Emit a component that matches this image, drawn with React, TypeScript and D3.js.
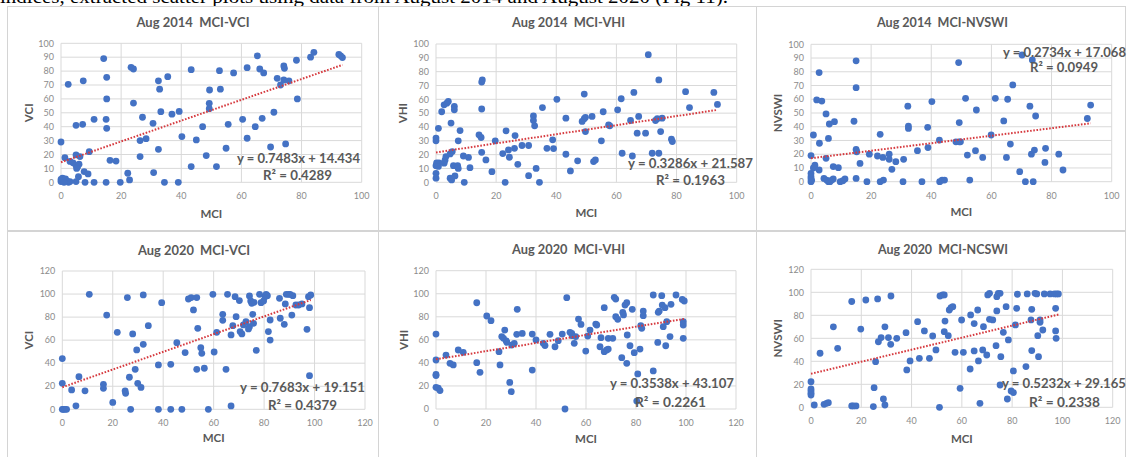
import React from "react";
import * as d3 from "d3";

type Pt = [number, number];

const titles = ["Aug 2014\u00A0 MCI-VCI", "Aug 2014\u00A0 MCI-VHI", "Aug 2014\u00A0 MCI-NVSWI", "Aug 2020\u00A0 MCI-VCI", "Aug 2020\u00A0 MCI-VHI", "Aug 2020\u00A0 MCI-NCSWI"];
const yAxisTitles = ["VCI", "VHI", "NVSWI", "VCI", "VHI", "NVSWI"];
const xAxisTitle = "MCI";
const slopes = [0.7483, 0.3286, 0.2734, 0.7683, 0.3538, 0.5232];
const intercepts = [14.434, 21.587, 17.068, 19.151, 43.107, 29.165];
const rSquared = ["0.4289", "0.1963", "0.0949", "0.4379", "0.2261", "0.2338"];
const axisMax = [100, 100, 100, 120, 120, 120];
const yTickStep = [10, 10, 10, 20, 20, 20];
const xTickStep = [20, 20, 20, 20, 20, 20];
const captionText = "indices, extracted scatter plots using data from August 2014 and August 2020 (Fig 11).";

const vci2014: Pt[] = [
  [0, 29], [0, 0.5], [0, 2], [0.5, 3], [1, 1.5], [1.5, 2.5], [2, 1], [2.5, 0], [3, 0.5], [0.3, 1], [1, 0],
  [2.4, 70.5], [1.3, 17.7], [3, 15], [4, 14], [5, 19.7], [5, 41], [5, 12], [5.5, 11], [6, 13], [5.2, 10], [6.3, 18.5],
  [5.8, 4], [5, 0.5], [7.4, 73], [7.2, 41.7], [7.7, 7.7], [9, 6], [9.4, 22], [8, 0], [11, 0], [11, 45.3], [14.2, 89],
  [15, 0], [15.2, 75.5], [15.2, 60], [15, 45.3], [15.2, 38.8], [16.3, 15.8], [18.3, 15.3], [19.7, 0], [22.2, 6.5],
  [22.8, 1.7], [23.3, 82.7], [24.1, 81.5], [24.1, 57], [26.3, 18.5], [26.3, 30], [27.1, 46.8], [28.3, 31.4], [30.6, 42.4],
  [30.8, 7], [32.4, 73], [32.8, 67], [32.4, 23.7], [33.2, 50.8], [34.4, 0], [35.5, 76], [36.9, 49], [39, 0], [39.3, 51],
  [40.2, 32.9], [43.3, 11.3], [43.3, 81], [45, 30.5], [47.1, 40], [48.3, 19.2], [49.3, 56.8], [49.4, 66.4], [49.3, 53],
  [51.7, 11.3], [52.7, 80.3], [53, 67], [54.9, 24.5], [55.6, 41.7], [57.4, 78.7], [60.4, 45.3], [61.9, 31.7], [61.9, 82.5],
  [64.6, 40], [65.3, 91], [66.1, 81.5], [66.9, 46], [67.4, 78.7], [69.7, 25.4], [70.8, 50.4], [71.9, 74.8], [73, 70],
  [74.1, 83.7], [74.3, 82], [74.1, 73.6], [74.7, 27.6], [75.8, 73], [78.3, 87.8], [78.6, 60], [83, 90], [84.1, 93.5],
  [92.4, 92], [93, 91], [93.6, 89.7],
];

const vhi2014: Pt[] = [
  [0, 30], [0, 32], [0, 6.5], [0, 3], [0, 12], [0.5, 13], [1, 14], [0.2, 14], [0.8, 11.5], [0.8, 39], [1.9, 51],
  [2.7, 13.8], [3, 16], [3.3, 18.6], [2.7, 56], [3.6, 57.2], [4.1, 58.5], [4.7, 20.5], [5, 42.8], [4.7, 3], [5.2, 1.7],
  [5.4, 22.2], [5.8, 12], [6.1, 54.8], [6.1, 52.4], [6.3, 4.6], [7.2, 12], [7.4, 10], [7.4, 30], [8, 37.4], [9.1, 19],
  [9.4, 0], [10.8, 18], [11.3, 10.6], [14.3, 34.3], [15, 32.4], [15.2, 72.5], [15.4, 74], [15.2, 53], [15.2, 21.7],
  [16.6, 16.2], [18.6, 7.7], [19.7, 30], [22.2, 20.8], [23, 0], [23.3, 37.2], [24.1, 23.4], [24.4, 18.1], [26.3, 33.8],
  [26.1, 24.6], [27.2, 13], [28.6, 26.6], [30.8, 26.6], [30.8, 4.8], [32.4, 48], [32.4, 44.7], [32.8, 40.8], [33.3, 10],
  [34.4, 0], [35.4, 54], [36.9, 24.6], [38.8, 30.7], [39.1, 24.4], [40.2, 60], [43.2, 46.4], [43.2, 20.3], [44.7, 8.2],
  [47.1, 15.5], [48.6, 44], [49.3, 46], [49.7, 47], [49.3, 63.8], [49.7, 36.7], [51.9, 47.6], [52.4, 15], [53, 16.2],
  [55, 30], [55.6, 51], [57.4, 41.5], [57.8, 40.8], [60.4, 52.4], [61.6, 60.4], [61.9, 21], [64.7, 44.7], [65.3, 19],
  [65.8, 65], [66.9, 35.5], [67.4, 47.6], [69.7, 35.5], [70.6, 92.3], [71.9, 21], [73, 44.7], [73.6, 46], [74.1, 74],
  [74.1, 21], [74.7, 36.7], [75.2, 46.4], [78.3, 31.2], [78.6, 29.5], [83, 65.5], [84.3, 54], [92.4, 65], [93.6, 56.3],
];

const nvswi2014: Pt[] = [
  [0, 19], [0, 3.6], [0, 2], [0, 0], [0.2, 1], [0, 6], [0.8, 34], [0.8, 10], [1.3, 12], [1.9, 59.5], [2.7, 79.4],
  [2.8, 28], [2.7, 8.5], [3.6, 58.7], [4.3, 2.4], [5, 49.3], [5, 17], [5.2, 1.2], [5.8, 31.5], [6.1, 42], [5.8, 0],
  [6.3, 0], [6.9, 1.2], [7.4, 2], [7.4, 11], [7.8, 43.7], [9.1, 10.2], [9.7, 0], [10.6, 0.7], [11.3, 2], [14.3, 44],
  [15, 88], [15, 68.4], [15, 23.5], [15.2, 21.8], [15, 2.4], [16.3, 13.3], [18.6, 0], [19.4, 20], [22.1, 18.7],
  [23, 34.5], [23, 0], [23.9, 17.7], [24.1, 1.2], [26, 20], [26, 16.3], [26.9, 9], [28.2, 14.6], [30.6, 0], [30.8, 16.3],
  [32.2, 55], [32.4, 40.5], [32.4, 38.8], [35.4, 22.6], [36.9, 0], [38.9, 24.8], [38.8, 39.6], [40.2, 58.3], [42.7, 30.3],
  [42.8, 0], [43.6, 1.2], [44.4, 1.2], [48.2, 29], [49.1, 86.7], [49.3, 29], [49.7, 29], [49.3, 43], [51.4, 60.7],
  [52, 19.4], [52.8, 1.2], [54.7, 22.6], [55, 52.2], [57.1, 17.7], [59.9, 34], [61.3, 60.7], [64.1, 44.2], [65, 17.7],
  [65.4, 60], [66.3, 27.4], [67.1, 70.4], [69.4, 7.3], [70.2, 92.2], [71.3, 0], [72.8, 55], [73.3, 20], [73.6, 88.6],
  [73.9, 0], [74.3, 23], [74.7, 47.8], [77.8, 14], [78, 24.3], [82.4, 20], [83.8, 8.5], [91.9, 46], [93, 55.8],
];

const vci2020: Pt[] = [
  [0, 44], [0, 22.5], [0, 0], [0.4, 0], [1, 0], [1.7, 0], [3.7, 16.8], [5.4, 3], [6.6, 28.3], [9, 16], [10.7, 99.8],
  [16.3, 21.7], [16.3, 18.2], [17.6, 81.8], [20, 6], [21.8, 66.8], [24.9, 16], [25.1, 13.9], [25.8, 96.9], [26.6, 27.8],
  [27.1, 0], [27.9, 65.4], [28.9, 34.7], [29.5, 51.5], [29.9, 22.5], [31.2, 19], [32.1, 99.2], [32.1, 56.4], [34.1, 72.6],
  [38.1, 38.5], [38.1, 0], [39.4, 92.5], [43, 39], [43, 0], [45.4, 57.8], [47.4, 0], [48.7, 49.2], [50, 95.7],
  [51.1, 96.9], [52, 86.2], [53.3, 96.9], [53.3, 34.7], [53.7, 70.3], [54.9, 53.5], [55.3, 48.6], [56.3, 35.6],
  [57.9, 0], [59.7, 99.8], [60.2, 49.7], [61.2, 66.8], [63.6, 82.4], [63.6, 77.2], [64.9, 34.7], [65.5, 99.8],
  [66.9, 64.5], [66.9, 2.9], [67.6, 72.6], [68.5, 97.7], [68.9, 80.4], [70.2, 94.3], [70.5, 67.4], [71.2, 65.4],
  [71.8, 73.2], [72.8, 76], [73.8, 69.7], [74.2, 71.7], [74.2, 98.3], [74.7, 94], [75.1, 92], [75.5, 82.4], [75.8, 74.6],
  [76, 92.8], [76.9, 51.2], [78.2, 99.8], [78.8, 92.5], [79.8, 94], [80.4, 97.7], [80.8, 99.8], [81.3, 98.6], [81.7, 67.4],
  [82.4, 77.5], [82.4, 60.1], [86.1, 96.3], [86.4, 79], [88, 73.7], [88.4, 91.4], [88.8, 99.8], [89.7, 99.8], [90.3, 99.8],
  [91.4, 98.6], [91, 81.8], [92.6, 90.5], [93.7, 90.5], [95, 91.4], [97, 69.4], [97.6, 97.7], [98, 88.2], [98, 29.2],
  [98.5, 99.2],
];

const vhi2020: Pt[] = [
  [0, 65], [0, 42.5], [0, 30], [0, 29], [0, 18.8], [0.9, 18], [1.6, 16], [4, 46.8], [5.6, 39.6], [6.9, 38.2], [8.9, 51.2],
  [10.9, 49.2], [16.3, 92.2], [16.3, 40.2], [17.6, 31.8], [20.3, 80.7], [22, 76.6], [25.2, 49.7], [25.6, 38.2],
  [26.3, 62.8], [27, 61.3], [27.5, 68.5], [28.1, 59], [28.4, 57.8], [29.5, 23.1], [30.1, 15], [30.3, 55.5], [31.3, 57],
  [32.3, 64.8], [32.5, 86.5], [34.5, 65.6], [38.5, 65], [38.5, 33.8], [40, 59.9], [42.9, 57], [43.6, 55], [45.6, 64.8],
  [47.6, 54], [48.9, 59.3], [50.5, 65], [51.6, 0], [52.3, 96.6], [53.6, 66.5], [54.3, 65.6], [54.5, 63.6], [55.3, 57],
  [55.9, 62.8], [57, 78], [58, 73.4], [59.9, 50.3], [60.7, 63.3], [61.6, 68.5], [63.9, 73.7], [64.3, 72.9], [65.6, 54],
  [66, 61.9], [67.3, 87.9], [67.3, 49.7], [68.3, 51.2], [68.9, 52], [68.9, 61.3], [70.7, 61.3], [71.3, 96.9], [71.9, 95.4],
  [71.9, 80.1], [72.7, 77.8], [74.3, 44.5], [74.7, 83.9], [75, 81.6], [75.6, 90.2], [76.3, 92.2], [76.3, 39.6], [76.5, 64.2],
  [77.6, 54.9], [78.5, 86.5], [79.3, 48.9], [80.3, 6.9], [80.7, 30.4], [81.6, 52], [81.9, 72.3], [82.3, 70], [82.9, 85],
  [82.9, 81], [86.9, 33], [86.9, 98.9], [88.7, 57.8], [88.9, 83.9], [89.3, 85], [90.3, 98.3], [90.5, 90.2], [90.9, 71.4],
  [91.6, 87.9], [91.9, 54.9], [92.3, 75.8], [93.6, 62.8], [94, 90.8], [96, 98.9], [98.5, 95.1], [99.3, 93.7], [98.9, 75.8],
  [98.9, 72.9], [98.9, 61.3],
];

const nvswi2020: Pt[] = [
  [0, 22.3], [0, 16], [0, 14.2], [0, 12.2], [0, 10.7], [1.3, 2], [3.6, 47], [5.2, 2.6], [6.2, 3.5], [6.9, 4], [8.9, 70],
  [10.6, 51.3], [16.2, 92], [16.2, 1.2], [16.8, 1.2], [17.9, 1.2], [19.8, 68], [21.8, 93.3], [24.8, 0.6], [25.1, 17.1],
  [25.7, 39.7], [26.5, 94.2], [26.8, 57], [27.9, 60.6], [28.8, 7.2], [29.4, 70], [29.4, 2], [30.8, 60.6], [31.7, 54.8],
  [31.8, 96.8], [34.1, 60], [37.8, 64.9], [38.1, 32.5], [39.4, 40.3], [42.4, 74.5], [43.1, 42.6], [45.1, 66.4],
  [47.1, 42.6], [48.4, 62], [49.7, 49.9], [51.1, 0], [51.3, 96.8], [52.4, 97.7], [53, 97.7], [53, 65.8], [53.3, 75],
  [54.6, 62.3], [55, 84.6], [55.7, 86.7], [56.4, 87.5], [57.3, 47.8], [59.3, 16.5], [59.9, 75.9], [60.6, 47.8],
  [63.3, 33.3], [63.5, 80.3], [64.9, 72.8], [64.9, 49], [66.3, 84.6], [66.6, 40.3], [67.2, 3.5], [68.3, 49.9], [68.6, 70.1],
  [69.9, 45.5], [70.3, 97.7], [71, 99.1], [71, 76.5], [72.3, 76], [73.6, 53.6], [73.9, 83.8], [73.9, 96.2], [74.5, 99.1],
  [75.2, 99.1], [75.2, 19.4], [75.5, 44], [76.5, 65.2], [77.6, 87.5], [78.1, 7.2], [78.5, 58.6], [79.6, 14.2], [80.5, 12.8],
  [80.5, 31.6], [81.3, 71.6], [81.8, 86.1], [82.1, 98.3], [85.5, 35.4], [86, 98.6], [87.5, 76], [87.8, 85.2], [87.8, 49.3],
  [89.1, 99.1], [89.8, 98.6], [90.2, 62.3], [90.5, 44], [91.1, 73.9], [91.1, 75.9], [92.2, 67.2], [92.8, 98.6], [95.1, 98.6],
  [96.8, 98.6], [97.7, 98.6], [98.4, 98.6], [97.3, 86.1], [97.3, 66.4], [97.5, 60],
];

const seriesList: Pt[][] = [vci2014, vhi2014, nvswi2014, vci2020, vhi2020, nvswi2020];

// layout (pixels)
const layouts = [
  { box: [7.5, 6.5, 371, 224], px: [61, 361.7], py: [182.3, 43.3], title: [193, 27, 113], yLab: 29, eq: [237, 163, 123], r2: [263, 180, 69], xLabY: 218 },
  { box: [378.5, 6.5, 378, 224], px: [436, 736.7], py: [182.3, 44], title: [568.5, 27, 113], yLab: 403, eq: [628, 168, 125], r2: [656, 185, 69], xLabY: 217 },
  { box: [756.5, 6.5, 369, 224], px: [811, 1111.7], py: [181.7, 44.3], title: [942.5, 27, 131], yLab: 778, eq: [1003, 57, 123], r2: [1030, 71.5, 68], xLabY: 216 },
  { box: [7.5, 231.5, 371, 230], px: [62.3, 365], py: [409.3, 271], title: [194, 255, 112], yLab: 29, eq: [240, 391.5, 125], r2: [268, 410, 69], xLabY: 441.5 },
  { box: [378.5, 231.5, 378, 230], px: [436, 736], py: [409, 270.7], title: [568.5, 254, 113], yLab: 404, eq: [610, 388.3, 124], r2: [635, 406.7, 71], xLabY: 443 },
  { box: [756.5, 231.5, 369, 230], px: [811, 1112.7], py: [407.3, 269.3], title: [943, 254, 130], yLab: 778, eq: [1002, 388.3, 124], r2: [1029, 406.7, 71], xLabY: 443 },
];

const FONT = "Lato, 'Open Sans', 'Liberation Sans', sans-serif";
const GRID = "#d9d9d9";
const TICK = "#8c8c8c";
const TEXT = "#595959";
const DOT = "#4472C4";
const TREND = "#d63a3f";

function Panel({ i }: { i: number }) {
  const L = layouts[i];
  const data = seriesList[i];
  const max = axisMax[i];
  const x = d3.scaleLinear().domain([0, max]).range(L.px);
  const y = d3.scaleLinear().domain([0, max]).range(L.py);
  const xTicks = d3.range(0, max + 0.001, xTickStep[i]);
  const yTicks = d3.range(0, max + 0.001, yTickStep[i]);
  const ext = d3.extent(data, (d) => d[0]) as [number, number];
  const trend = d3.line<number>().x((v) => x(v)).y((v) => y(slopes[i] * v + intercepts[i]));
  const eqText = `y = ${slopes[i].toFixed(4)}x + ${intercepts[i].toFixed(3)}`;
  return (
    <g>
      <rect x={L.box[0]} y={L.box[1]} width={L.box[2]} height={L.box[3]} fill="#fff" stroke="#d4d4d4" strokeWidth={1} />
      {yTicks.map((t) => (
        <line key={"h" + t} x1={L.px[0]} x2={L.px[1]} y1={y(t)} y2={y(t)} stroke={GRID} strokeWidth={1} />
      ))}
      {xTicks.map((t) => (
        <line key={"v" + t} x1={x(t)} x2={x(t)} y1={L.py[0]} y2={L.py[1]} stroke={GRID} strokeWidth={1} />
      ))}
      {yTicks.map((t) => (
        <text key={"yl" + t} x={L.px[0] - 7} y={y(t) + 3.2} textAnchor="end" fontSize={9} fill={TICK} fontFamily={FONT}>
          {t}
        </text>
      ))}
      {xTicks.map((t) => (
        <text key={"xl" + t} x={x(t)} y={L.py[0] + 17} textAnchor="middle" fontSize={9} fill={TICK} fontFamily={FONT}>
          {t}
        </text>
      ))}
      <text x={L.title[0]} y={L.title[1]} textAnchor="middle" fontSize={14} fill={TEXT} fontFamily={FONT} fontWeight={700}
        textLength={L.title[2]} lengthAdjust="spacingAndGlyphs">
        {titles[i]}
      </text>
      <text x={(L.px[0] + L.px[1]) / 2} y={L.xLabY} textAnchor="middle" fontSize={11.5} fill={TEXT} fontFamily={FONT} fontWeight={700}>
        {xAxisTitle}
      </text>
      <text transform={`translate(${L.yLab + 4},${(L.py[0] + L.py[1]) / 2}) rotate(-90)`} textAnchor="middle" fontSize={11.5}
        fill={TEXT} fontFamily={FONT} fontWeight={700}>
        {yAxisTitles[i]}
      </text>
      {data.map((d, k) => (
        <circle key={k} cx={x(d[0])} cy={y(d[1])} r={3.4} fill={DOT} />
      ))}
      <path d={trend([ext[0], ext[1]]) || ""} fill="none" stroke={TREND} strokeWidth={2} strokeDasharray="1.6 1.6" />
      <text x={L.eq[0]} y={L.eq[1]} fontSize={14} fill={TEXT} fontFamily={FONT} fontWeight={700}
        textLength={L.eq[2]} lengthAdjust="spacingAndGlyphs">
        {eqText}
      </text>
      <text x={L.r2[0]} y={L.r2[1]} fontSize={14} fill={TEXT} fontFamily={FONT} fontWeight={700}
        textLength={L.r2[2]} lengthAdjust="spacingAndGlyphs">
        {`R\u00B2 = ${rSquared[i]}`}
      </text>
    </g>
  );
}

export default function App() {
  return (
    <svg width={1128} height={457} viewBox="0 0 1128 457" style={{ position: "absolute", left: 0, top: 0, background: "#fff" }}>
      <rect x={0} y={0} width={1128} height={457} fill="#fff" />
      <text x={0} y={3} fontSize={18} fontFamily="'Liberation Serif', 'Times New Roman', serif" fill="#000"
        textLength={728} lengthAdjust="spacingAndGlyphs">
        {captionText}
      </text>
      {[0, 1, 2, 3, 4, 5].map((i) => (
        <Panel key={i} i={i} />
      ))}
    </svg>
  );
}
